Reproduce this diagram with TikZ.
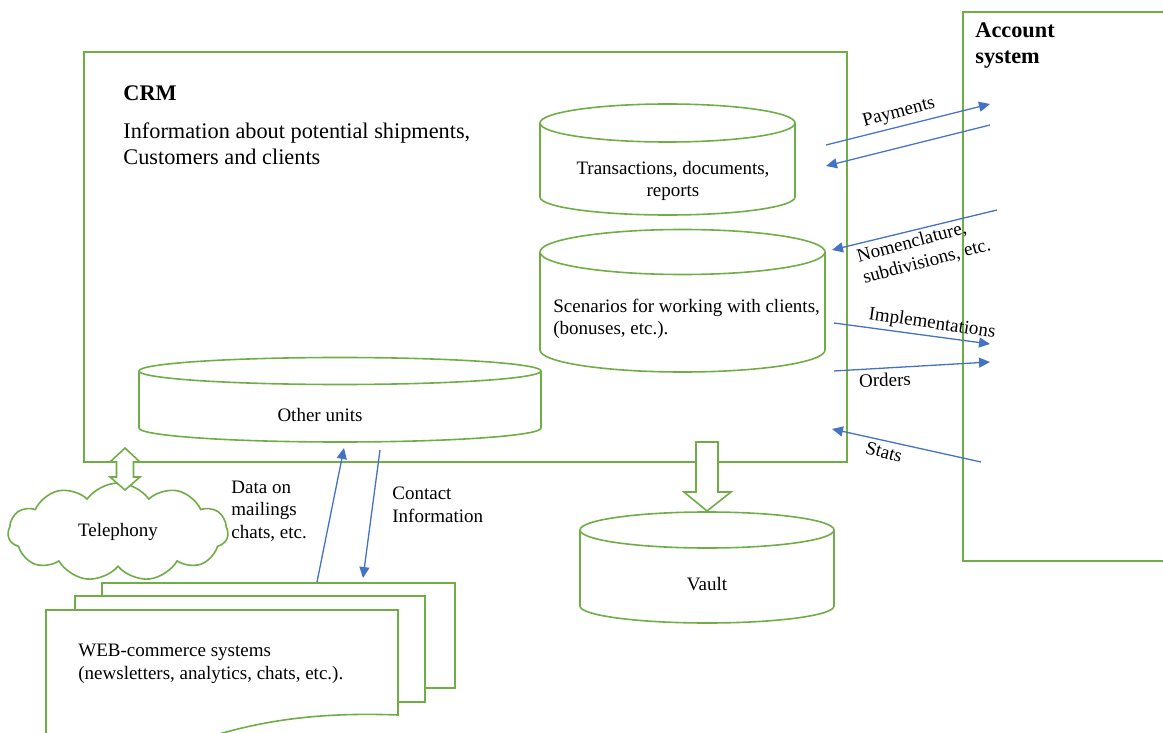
\documentclass[tikz,border=0pt]{standalone}
\usepackage{fontspec}
\setmainfont{Liberation Serif}
\usetikzlibrary{shapes.symbols,arrows.meta}
\definecolor{boxgreen}{RGB}{112,173,71}
\definecolor{flowblue}{RGB}{68,114,196}
\tikzset{
  grn/.style={draw=boxgreen, line width=0.8pt},
  flow/.style={draw=flowblue, line width=0.65pt, -{Triangle[length=5.5pt,width=5pt]}},
  big/.style={font=\fontsize{11.15}{13}\selectfont, inner sep=0pt},
  small/.style={font=\fontsize{9.5}{11.25}\selectfont, inner sep=0pt},
}
\begin{document}
\begin{tikzpicture}[x=0.5pt,y=-0.5pt]
  \useasboundingbox (0,0) rectangle (1163,733);
  \clip (0,0) rectangle (1163,733);
  \draw[grn] (84,52) rectangle (847,462);
  \draw[grn] (963,12) rectangle (1175,561);
  \draw[grn] (667.5,123) ellipse [x radius=127.5, y radius=19];
  \draw[grn] (540,123) -- (540,197) arc [start angle=180, end angle=0, x radius=127.5, y radius=18] -- (795,123);
  \draw[grn] (682.5,252) ellipse [x radius=142.5, y radius=22.5];
  \draw[grn] (540,252) -- (540,350) arc [start angle=180, end angle=0, x radius=142.5, y radius=22] -- (825,252);
  \draw[grn] (340,371) ellipse [x radius=201, y radius=13.5];
  \draw[grn] (139,371) -- (139,428) arc [start angle=180, end angle=0, x radius=201, y radius=14] -- (541,371);
  \draw[grn] (707,530) ellipse [x radius=127, y radius=18];
  \draw[grn] (580,530) -- (580,606) arc [start angle=180, end angle=0, x radius=127, y radius=17] -- (834,530);
  \draw[grn, fill=white] (696,442) -- (718,442) -- (718,492) -- (731,492) -- (707,511) -- (684,492) -- (696,492) -- cycle;
  \draw[grn, fill=white] (102,583) rectangle (455,688);
  \draw[grn, fill=white] (75,596) rectangle (425,702);
  \draw[grn, fill=white] (46,610) -- (398,610) -- (398,715) .. controls (320,712) and (260,720) .. (200,740) -- (46,760) -- cycle;
  \node[grn, cloud, cloud puffs=11, cloud puff arc=110, cloud ignores aspect, minimum width=110pt, minimum height=49pt,
    fill=white, font=\fontsize{9.5}{11.25}\selectfont] (tel) at (118,532) {Telephony};
  \draw[grn, fill=white] (125,448) -- (140,462) -- (133.5,462) -- (133.5,477) -- (140,477) -- (125,490)
    -- (110,477) -- (116.5,477) -- (116.5,462) -- (110,462) -- cycle;

  \node[big, anchor=west] (crmtitle) at (123,93) {\textbf{CRM}};
  \node[big, anchor=west, align=left] (crminfo) at (123,144) {Information about potential shipments,\\Customers and clients};
  \node[big, anchor=west, align=left] (acct) at (975,46) {\textbf{Account}\\\textbf{system}};
  \node[small, align=center] (trans) at (673,181) {Transactions, documents,\\reports};
  \node[small, anchor=west, align=left] (scen) at (553,319) {Scenarios for working with clients,\\(bonuses, etc.).};
  \node[small] (other) at (320,415) {Other units};
  \node[small] (vault) at (707,584) {Vault};
  \node[small, anchor=west, align=left] (mail) at (231,511) {Data on\\mailings\\chats, etc.};
  \node[small, anchor=west, align=left] (contact) at (392,505) {Contact\\Information};
  \node[small, anchor=west, align=left] (web) at (78,664) {WEB-commerce systems\\(newsletters, analytics, chats, etc.).};

  \node[small, rotate=15] (paylbl) at (899,113) {Payments};
  \node[small, rotate=15, align=left] (nomlbl) at (924,251) {Nomenclature,\\subdivisions, etc.};
  \node[small, rotate=-8] (impllbl) at (932,324) {Implementations};
  \node[small, rotate=2] (ordlbl) at (885,380) {Orders};
  \node[small, rotate=-15] (statlbl) at (884,452) {Stats};

  \coordinate (payA) at (826,145);
  \coordinate (payB) at (990,104);
  \coordinate (retA) at (990,125);
  \coordinate (retB) at (826,166);
  \coordinate (nomA) at (997,210);
  \coordinate (nomB) at (832,250);
  \coordinate (impA) at (834,323);
  \coordinate (impB) at (990,344);
  \coordinate (ordA) at (834,371);
  \coordinate (ordB) at (990,362);
  \coordinate (staA) at (981,462);
  \coordinate (staB) at (832,429);
  \coordinate (upA) at (317,582);
  \coordinate (upB) at (344,448);
  \coordinate (dnA) at (380,450);
  \coordinate (dnB) at (363,578);
  \begin{scope}[flow]
    \draw (payA) to (payB);
    \draw (retA) to (retB);
    \draw (nomA) to (nomB);
    \draw (impA) to (impB);
    \draw (ordA) to (ordB);
    \draw (staA) to (staB);
    \draw (upA) to (upB);
    \draw (dnA) to (dnB);
  \end{scope}
\end{tikzpicture}
\end{document}
